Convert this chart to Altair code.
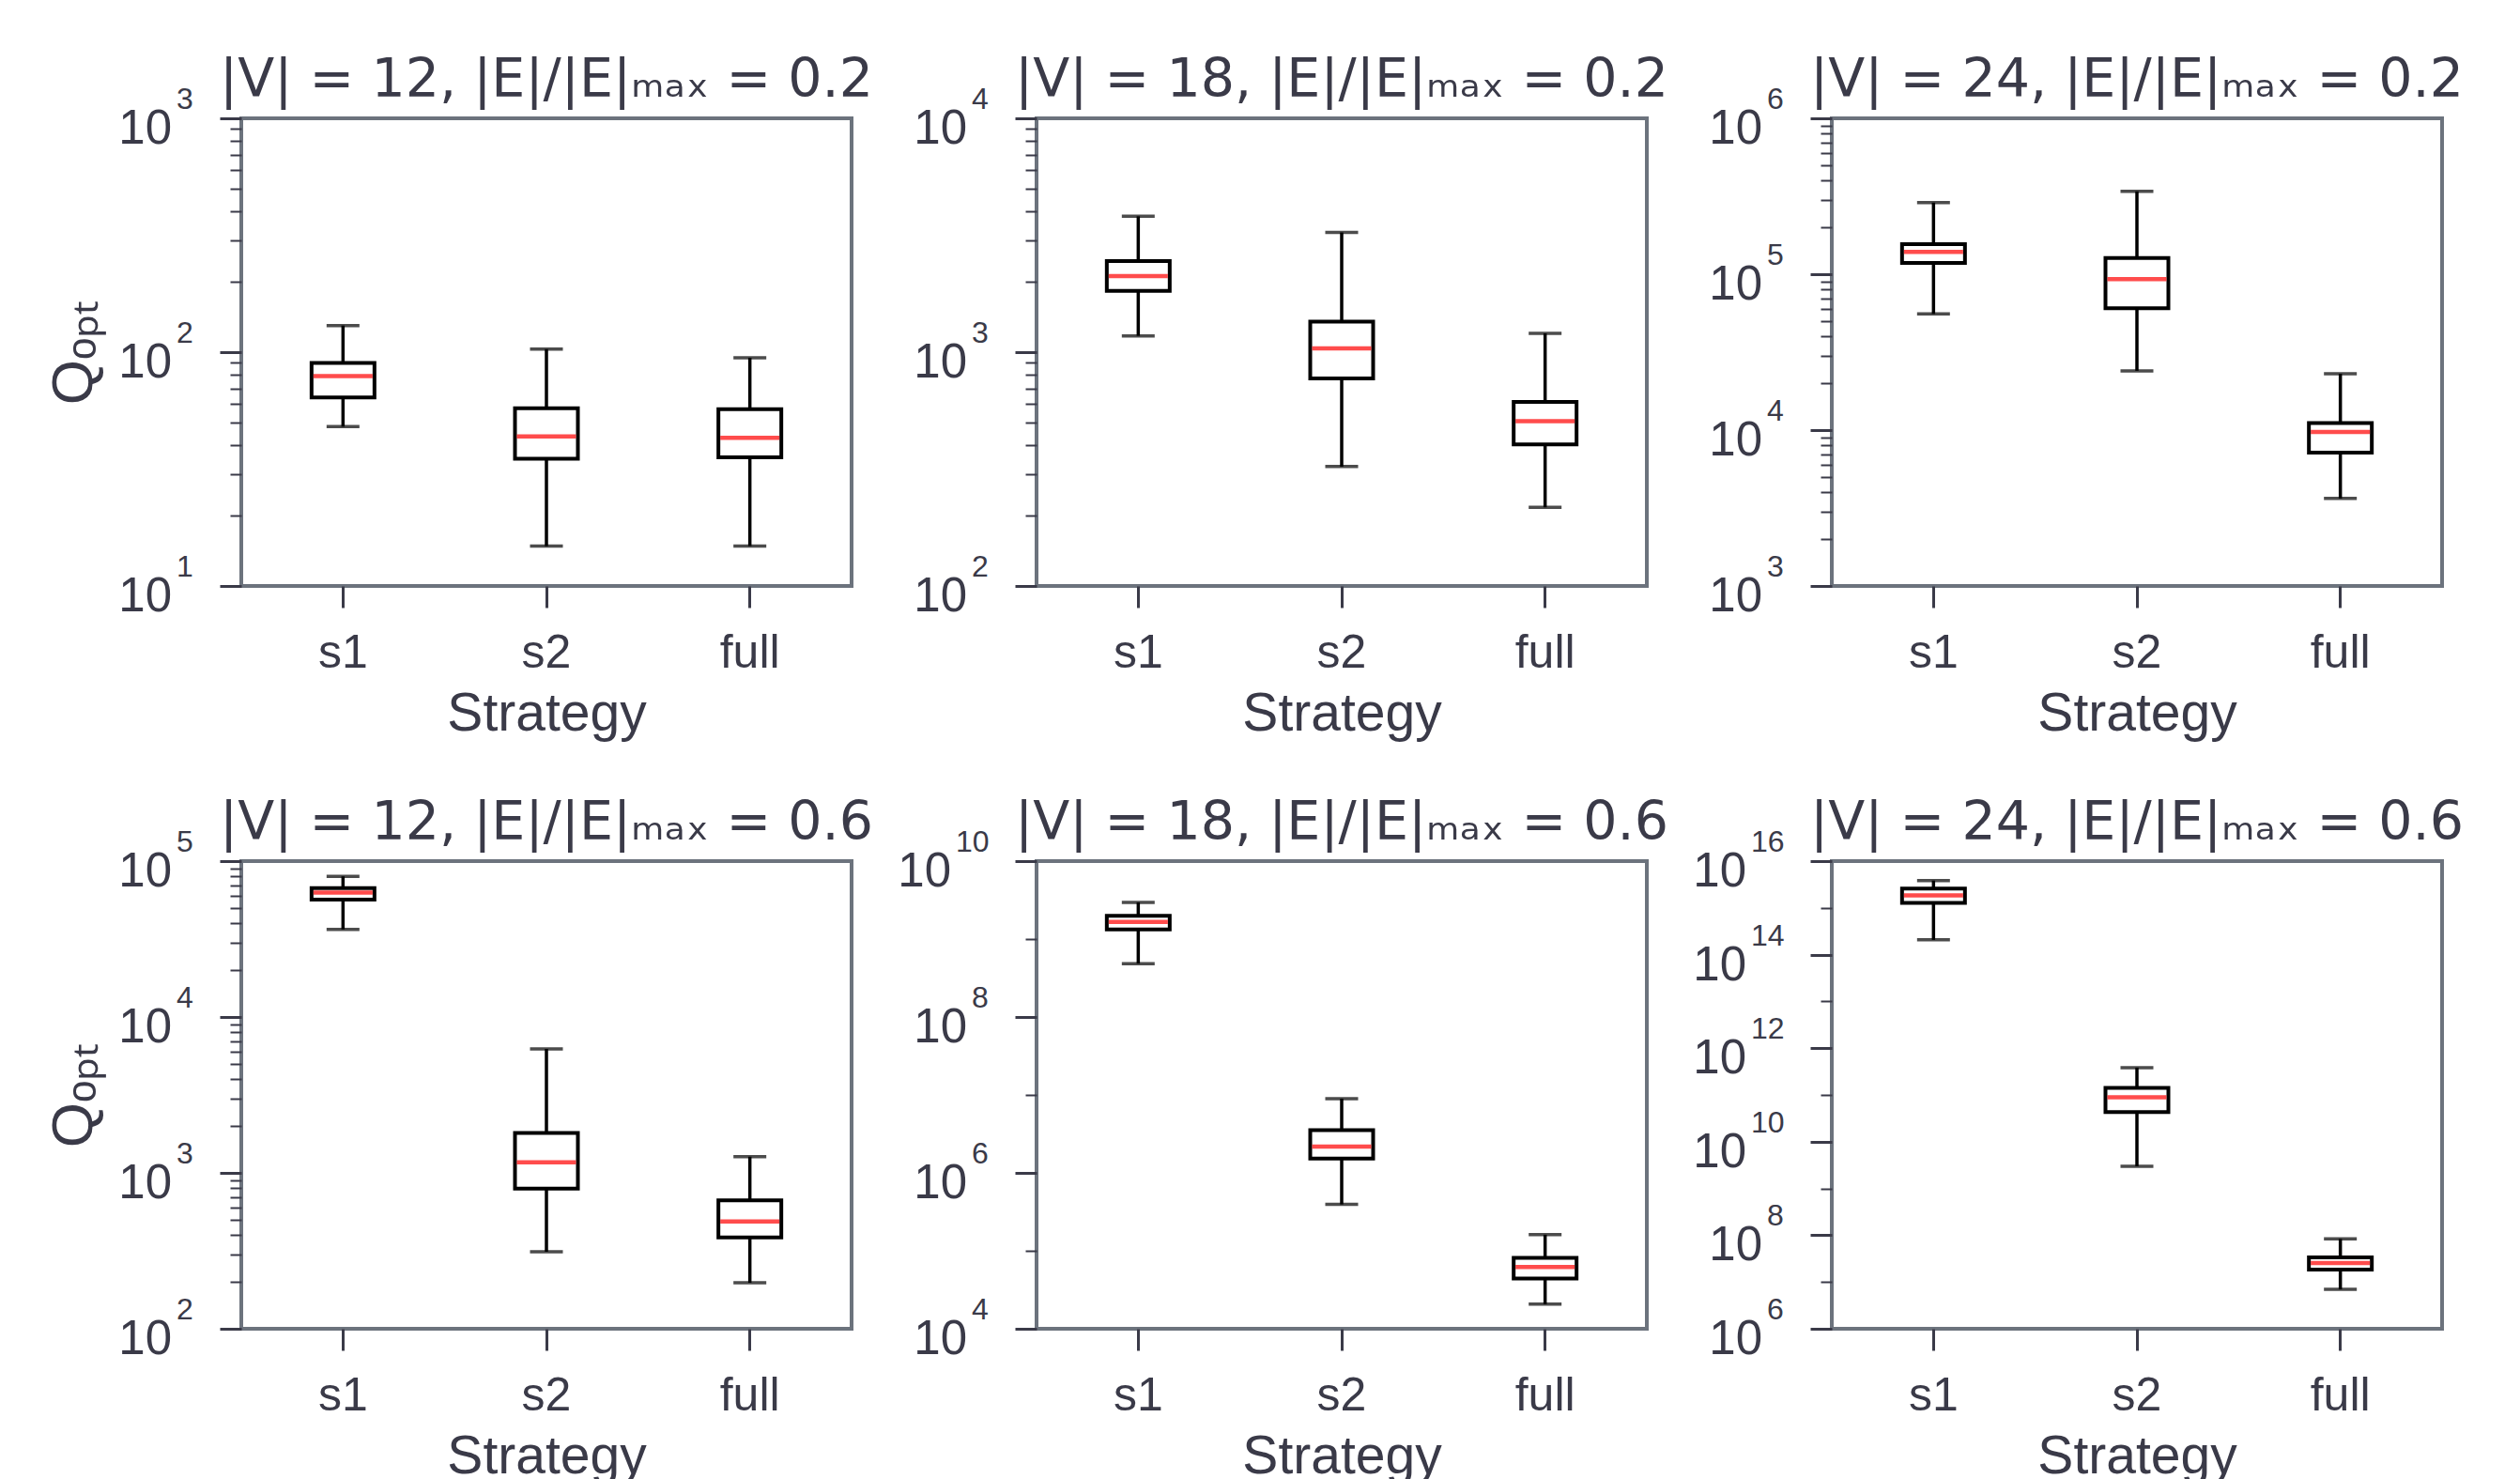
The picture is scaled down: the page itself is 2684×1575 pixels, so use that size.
import altair as alt
import pandas as pd

strategies = ["s1", "s2", "full"]

titles = [
    "|V| = 12, |E|/|E|ₘₐₓ = 0.2",
    "|V| = 18, |E|/|E|ₘₐₓ = 0.2",
    "|V| = 24, |E|/|E|ₘₐₓ = 0.2",
    "|V| = 12, |E|/|E|ₘₐₓ = 0.6",
    "|V| = 18, |E|/|E|ₘₐₓ = 0.6",
    "|V| = 24, |E|/|E|ₘₐₓ = 0.6",
]

# per panel, values for s1, s2, full
whisker_low = [
    [48, 14.8, 14.8],
    [1174, 324, 217],
    [55600, 24000, 3640],
    [36500, 312, 197],
    [4.84e8, 3.94e5, 2.07e4],
    [2.07e14, 2.99e9, 6.95e6],
]
quartile_1 = [
    [64, 35, 35.5],
    [1830, 771, 403],
    [118000, 60500, 7180],
    [56700, 793, 386],
    [1.33e9, 1.53e6, 4.4e4],
    [1.28e15, 4.3e10, 1.85e7],
]
medians = [
    [79, 43.6, 43],
    [2115, 1038, 507],
    [139000, 93100, 9720],
    [62800, 1170, 487],
    [1.66e9, 2.18e6, 6.19e4],
    [1.85e15, 8.9e10, 2.55e7],
]
quartile_3 = [
    [90, 57.5, 57],
    [2450, 1352, 612],
    [156000, 127000, 11100],
    [67200, 1800, 667],
    [1.99e9, 3.53e6, 8.14e4],
    [2.6e15, 1.41e11, 3.35e7],
]
whisker_high = [
    [130, 103, 94.5],
    [3810, 3250, 1202],
    [288000, 340000, 23000],
    [79800, 6240, 1271],
    [2.95e9, 8.96e6, 1.61e5],
    [3.84e15, 3.84e11, 8.34e7],
]

# y-axis decade range (exponents) and label step
exp_ranges = [(1, 3), (2, 4), (3, 6), (2, 5), (4, 10), (6, 16)]
label_steps = [1, 1, 1, 1, 2, 2]

TEXT = "#3a3a48"
FRAME = "#6c737d"
FONT = "Liberation Sans"
W, H = 650, 498


def make_panel(i):
    df = pd.DataFrame({
        "strategy": strategies,
        "lo": whisker_low[i],
        "q1": quartile_1[i],
        "med": medians[i],
        "q3": quartile_3[i],
        "hi": whisker_high[i],
    })
    e0, e1 = exp_ranges[i]
    step = label_steps[i]
    major = [10.0 ** e for e in range(e0, e1 + 1, step)]
    if step == 1:
        minor = [m * 10.0 ** e for e in range(e0, e1) for m in range(2, 10)]
    else:
        minor = [10.0 ** e for e in range(e0 + 1, e1, 2)]
    ysc = alt.Scale(type="log", domain=[10.0 ** e0, 10.0 ** e1], nice=False)
    col = i % 3
    major_axis = alt.Axis(
        values=major, labels=False, orient="left",
        tickSize=23, tickWidth=3, tickColor=TEXT, domain=False, grid=False,
        title="Qₒₚₜ" if col == 0 else "", titleFontSize=62, titleFont=FONT,
        titleFontWeight="normal", titleColor=TEXT, titlePadding=122,
    )
    minor_axis = alt.Axis(
        values=minor, labels=False, orient="left", tickSize=12, tickWidth=2,
        tickColor=TEXT, domain=False, grid=False, title="",
    )
    x = alt.X(
        "strategy:N", sort=strategies,
        scale=alt.Scale(paddingInner=0, paddingOuter=0),
        axis=alt.Axis(
            labelAngle=0, tickSize=23, tickWidth=3, tickColor=TEXT, domain=False,
            labelFontSize=50, labelColor=TEXT, labelPadding=23, labelFont=FONT,
            title="Strategy", titleFontSize=57, titleFont=FONT,
            titleFontWeight="normal", titleColor=TEXT, titlePadding=12,
        ),
    )
    base = alt.Chart(df)
    whisk = base.mark_rule(color="black", strokeWidth=3.5).encode(
        x=x, y=alt.Y("lo:Q", scale=ysc, axis=minor_axis), y2="hi:Q")
    box = base.mark_bar(size=67, fill="white", stroke="black", strokeWidth=4).encode(
        x=x, y=alt.Y("q1:Q", scale=ysc, axis=major_axis), y2="q3:Q")
    cap_lo = base.mark_tick(size=35, thickness=3.5, color="black").encode(
        x=x, y=alt.Y("lo:Q", scale=ysc, axis=None))
    cap_hi = base.mark_tick(size=35, thickness=3.5, color="black").encode(
        x=x, y=alt.Y("hi:Q", scale=ysc, axis=None))
    med = base.mark_tick(size=63, thickness=4.5, color="red").encode(
        x=x, y=alt.Y("med:Q", scale=ysc, axis=None))

    # tick labels "10" with raised exponent
    lab_base = alt.Chart(pd.DataFrame({"v": major})).transform_calculate(
        e="format(round(log(datum.v)/LN10),'d')"
    )
    label_layers = []
    for nd in (1, 2):
        sub = lab_base.transform_filter(f"length(datum.e) == {nd}")
        right = -(57 + 17 * nd)
        label_layers.append(
            sub.mark_text(align="right", baseline="alphabetic", fontSize=51,
                          font=FONT, color=TEXT, dy=27).encode(
                x=alt.value(right), y=alt.Y("v:Q", scale=ysc, axis=None),
                text=alt.value("10"))
        )
        label_layers.append(
            sub.mark_text(align="left", baseline="alphabetic", fontSize=32,
                          font=FONT, color=TEXT, dy=-10, dx=5).encode(
                x=alt.value(right), y=alt.Y("v:Q", scale=ysc, axis=None),
                text="e:N")
        )

    return alt.layer(whisk, box, cap_lo, cap_hi, med, *label_layers).resolve_axis(
        y="independent").properties(
        width=W, height=H,
        title=alt.TitleParams(
            titles[i], font="DejaVu Sans", fontSize=57, fontWeight="normal",
            color=TEXT, anchor="middle", frame="group", offset=-25,
        ),
    )


chart = alt.concat(
    *[make_panel(i) for i in range(6)], columns=3,
    spacing=alt.RowColnumber(row=293, column=197),
    bounds="flush",
).properties(
    padding={"left": 45, "top": 55, "right": 10, "bottom": 0},
).configure_view(
    stroke=FRAME, strokeWidth=4
)

chart.save("out.html", embed_options={"renderer": "svg", "actions": False})
